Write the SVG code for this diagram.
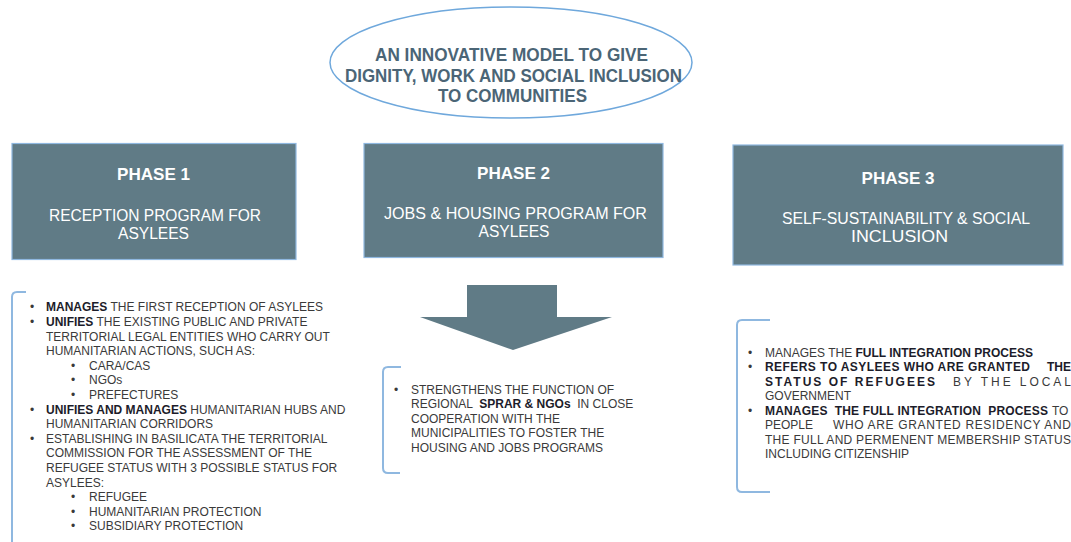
<svg xmlns="http://www.w3.org/2000/svg" width="1071" height="542" viewBox="0 0 1071 542">
<style>
.phase{fill:#607b86;stroke:#8fb8e0;stroke-width:1.2}
.ph{font-family:"Liberation Sans",Arial,sans-serif;font-weight:bold;font-size:17px;fill:#ffffff;text-anchor:middle}
.pt{font-family:"Liberation Sans",Arial,sans-serif;font-size:16px;fill:#ffffff;text-anchor:middle}
.title{font-family:"Liberation Sans",Arial,sans-serif;font-weight:bold;font-size:18px;fill:#4b6576;text-anchor:middle}
.br{fill:none;stroke:#8fb8e0;stroke-width:2}
.tx{font-family:"Liberation Sans",Arial,sans-serif;font-size:12px;fill:#3a3a3a}
.b{font-weight:bold;fill:#1c1c2a}
</style>
<rect width="1071" height="542" fill="#ffffff"/>

<g id="goal">
<ellipse cx="511" cy="62.5" rx="181" ry="55.5" fill="none" stroke="#6fa8dc" stroke-width="1.5"/>
<text class="title" x="511.5" y="60.5" textLength="273" lengthAdjust="spacingAndGlyphs">AN INNOVATIVE MODEL TO GIVE</text>
<text class="title" x="513.5" y="81.5" textLength="337" lengthAdjust="spacingAndGlyphs">DIGNITY, WORK AND SOCIAL INCLUSION</text>
<text class="title" x="512.5" y="101.5" textLength="149" lengthAdjust="spacingAndGlyphs">TO COMMUNITIES</text>
</g>

<g id="phase1">
<rect class="phase" x="12" y="143.5" width="284" height="116"/>
<text class="ph" x="153.5" y="180" textLength="73" lengthAdjust="spacingAndGlyphs">PHASE 1</text>
<text class="pt" x="155" y="221" textLength="212" lengthAdjust="spacingAndGlyphs">RECEPTION PROGRAM FOR</text>
<text class="pt" x="153.5" y="239" textLength="71" lengthAdjust="spacingAndGlyphs">ASYLEES</text>
</g>

<g id="phase2">
<rect class="phase" x="364" y="143.5" width="299" height="114"/>
<text class="ph" x="513.5" y="179" textLength="73" lengthAdjust="spacingAndGlyphs">PHASE 2</text>
<text class="pt" x="515.5" y="219" textLength="263" lengthAdjust="spacingAndGlyphs">JOBS &amp; HOUSING PROGRAM FOR</text>
<text class="pt" x="514" y="237" textLength="71" lengthAdjust="spacingAndGlyphs">ASYLEES</text>
</g>

<g id="phase3">
<rect class="phase" x="733" y="145" width="330" height="120"/>
<text class="ph" x="898" y="184" textLength="73" lengthAdjust="spacingAndGlyphs">PHASE 3</text>
<text class="pt" x="906" y="224" textLength="248" lengthAdjust="spacingAndGlyphs">SELF-SUSTAINABILITY &amp; SOCIAL</text>
<text class="pt" x="899.5" y="242" textLength="97" lengthAdjust="spacingAndGlyphs">INCLUSION</text>
</g>

<g id="connectors">
<polygon points="467,285 557,285 557,317 612,317 513,350 420,317 467,317" fill="#607b86"/>
</g>

<g id="phase1-details">
<path class="br" d="M26,292 L17,292 Q12,292 12,297 L12,545"/>
<g class="tx">
<text x="30" y="311.3">•</text>
<text x="46" y="311.3"><tspan class="b">MANAGES</tspan> THE FIRST RECEPTION OF ASYLEES</text>
<text x="30" y="325.9">•</text>
<text x="46" y="325.9"><tspan class="b">UNIFIES</tspan> THE EXISTING PUBLIC AND PRIVATE</text>
<text x="46" y="340.5">TERRITORIAL LEGAL ENTITIES WHO CARRY OUT</text>
<text x="46" y="355.1">HUMANITARIAN ACTIONS, SUCH AS:</text>
<text x="71" y="369.7">•</text>
<text x="89" y="369.7">CARA/CAS</text>
<text x="71" y="384.3">•</text>
<text x="89" y="384.3">NGOs</text>
<text x="71" y="398.9">•</text>
<text x="89" y="398.9">PREFECTURES</text>
<text x="30" y="413.5">•</text>
<text x="46" y="413.5"><tspan class="b">UNIFIES  AND MANAGES</tspan> HUMANITARIAN HUBS AND</text>
<text x="46" y="428.1">HUMANITARIAN CORRIDORS</text>
<text x="30" y="442.7">•</text>
<text x="46" y="442.7">ESTABLISHING IN BASILICATA THE TERRITORIAL</text>
<text x="46" y="457.3">COMMISSION FOR THE ASSESSMENT OF THE</text>
<text x="46" y="471.9">REFUGEE STATUS WITH 3 POSSIBLE STATUS FOR</text>
<text x="46" y="486.5">ASYLEES:</text>
<text x="71" y="501.1">•</text>
<text x="89" y="501.1">REFUGEE</text>
<text x="71" y="515.7">•</text>
<text x="89" y="515.7">HUMANITARIAN PROTECTION</text>
<text x="71" y="530.3">•</text>
<text x="89" y="530.3">SUBSIDIARY PROTECTION</text>
</g>
</g>

<g id="phase2-details">
<path class="br" d="M401,367 L388,367 Q383,367 383,372 L383,468 Q383,473 388,473 L400,473"/>
<g class="tx">
<text x="394" y="393.5">•</text>
<text x="411" y="393.5">STRENGTHENS THE FUNCTION OF</text>
<text x="411" y="408" xml:space="preserve">REGIONAL  <tspan class="b">SPRAR &amp; NGOs</tspan>  IN CLOSE</text>
<text x="411" y="422.5">COOPERATION WITH THE</text>
<text x="411" y="437">MUNICIPALITIES TO FOSTER THE</text>
<text x="411" y="451.5">HOUSING AND JOBS PROGRAMS</text>
</g>
</g>

<g id="phase3-details">
<path class="br" d="M770,320 L742,320 Q737,320 737,325 L737,487 Q737,492 742,492 L770,492"/>
<g class="tx">
<text x="748" y="356.5">•</text>
<text x="765" y="356.5">MANAGES THE <tspan class="b">FULL INTEGRATION PROCESS</tspan></text>
<text x="748" y="371">•</text>
<text class="b" x="765" y="371" textLength="265" lengthAdjust="spacing">REFERS TO ASYLEES WHO ARE GRANTED</text>
<text class="b" x="1047" y="371">THE</text>
<text class="b" x="765" y="385.5" textLength="170" lengthAdjust="spacing">STATUS OF REFUGEES</text>
<text x="953" y="385.5" textLength="118" lengthAdjust="spacing">BY THE LOCAL</text>
<text x="765" y="400">GOVERNMENT</text>
<text x="748" y="414.5">•</text>
<text class="b" x="765" y="414.5" textLength="283" lengthAdjust="spacing" xml:space="preserve">MANAGES  THE FULL INTEGRATION  PROCESS</text>
<text x="1052" y="414.5">TO</text>
<text x="765" y="429">PEOPLE</text>
<text x="833" y="429" textLength="238" lengthAdjust="spacing">WHO ARE GRANTED RESIDENCY AND</text>
<text x="765" y="443.5" textLength="306" lengthAdjust="spacing">THE FULL AND PERMENENT MEMBERSHIP STATUS</text>
<text x="765" y="458">INCLUDING CITIZENSHIP</text>
</g>
</g>
</svg>
